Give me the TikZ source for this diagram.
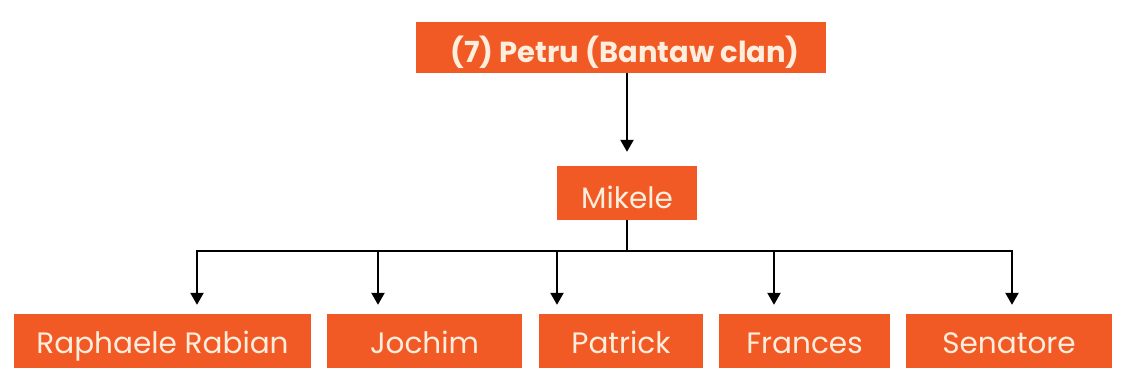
\documentclass[tikz,border=0pt]{standalone}
\usepackage{fontspec}
\setmainfont{Poppins}
\usetikzlibrary{arrows.meta}
\definecolor{boxorange}{HTML}{F15A24}
\definecolor{boxtext}{HTML}{FFEEDD}
\tikzset{
  famnode/.style={rectangle, fill=boxorange, text=boxtext, inner sep=0pt, anchor=center,
    text depth=0pt, font=\fontsize{29.5}{32}\selectfont},
  kid/.style={famnode, minimum height=54pt, text height=25pt},
  conn/.style={line width=2.2pt, black},
  arr/.style={conn, -{Triangle[length=12pt,width=13pt]}, shorten >=9pt}
}
\begin{document}
\begin{tikzpicture}[x=1pt,y=-1pt]
\useasboundingbox (0,0) rectangle (1126,376);
\fill[white] (0,0) rectangle (1126,376);
\node[famnode, minimum width=410pt, minimum height=51pt, text height=29pt, font=\fontsize{29}{32}\selectfont\bfseries] (petru) at (621,47.5) {\hspace{8pt}(7) Petru (Bantaw clan)};
\node[famnode, minimum width=140pt, minimum height=54pt, text height=30pt] (mikele) at (627,193) {Mikele};
\node[kid, minimum width=297pt] (rr) at (162.5,341) {Raphaele Rabian};
\node[kid, minimum width=195pt] (jo) at (424.5,341) {Jochim};
\node[kid, minimum width=164pt] (pa) at (621,341) {Patrick};
\node[kid, minimum width=171pt] (fr) at (804.5,341) {Frances};
\node[kid, minimum width=206pt] (se) at (1009,341) {Senatore};
\coordinate (d1) at (197,251);
\coordinate (d2) at (378,251);
\coordinate (d3) at (557,251);
\coordinate (d4) at (774,251);
\coordinate (d5) at (1012,251);
\draw[arr, shorten >=14pt] (petru.south -| mikele.south) -- (mikele.north);
\draw[conn] (mikele.south) -- (mikele.south |- d1);
\draw[conn, line cap=rect] (d1) -- (d5);
\draw[arr] (d1) -- (d1 |- rr.north);
\draw[arr] (d2) -- (d2 |- jo.north);
\draw[arr] (d3) -- (d3 |- pa.north);
\draw[arr] (d4) -- (d4 |- fr.north);
\draw[arr] (d5) -- (d5 |- se.north);
\end{tikzpicture}
\end{document}
